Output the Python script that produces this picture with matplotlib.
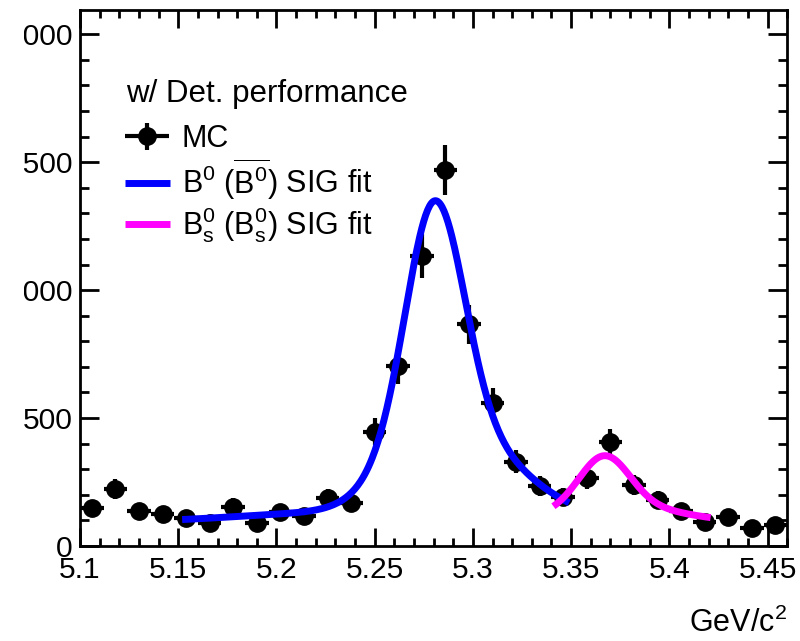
import numpy as np
import matplotlib
matplotlib.use('Agg')
import matplotlib.pyplot as plt
from matplotlib.legend_handler import HandlerErrorbar
from matplotlib.container import ErrorbarContainer
from matplotlib.ticker import MultipleLocator
from matplotlib.transforms import Bbox, TransformedBbox

plt.rcParams['font.family'] = ['Liberation Sans', 'DejaVu Sans']
plt.rcParams['mathtext.fontset'] = 'custom'
plt.rcParams['mathtext.rm'] = 'Liberation Sans'
plt.rcParams['mathtext.it'] = 'Liberation Sans:italic'
plt.rcParams['mathtext.bf'] = 'Liberation Sans:bold'
plt.rcParams['mathtext.sf'] = 'Liberation Sans'

# ---------------- data ----------------
mass = [5.106, 5.118, 5.130, 5.142, 5.154, 5.166, 5.178, 5.190, 5.202, 5.214,
        5.226, 5.238, 5.250, 5.262, 5.274, 5.286, 5.298, 5.310, 5.322, 5.334,
        5.346, 5.358, 5.370, 5.382, 5.394, 5.406, 5.418, 5.430, 5.442, 5.454]
counts = [148, 222, 135, 127, 108, 89, 154, 89, 134, 119,
          187, 168, 447, 702, 1132, 1470, 866, 557, 330, 235,
          193, 265, 406, 239, 180, 137, 95, 112, 69, 82]
errors = [31, 38, 30, 29, 27, 24, 32, 24, 30, 28,
          35, 33, 54, 68, 86, 98, 75, 60, 46, 39,
          35, 42, 51, 39, 34, 30, 25, 27, 21, 23]
bin_half_width = 0.006

x_ticks = [5.1, 5.15, 5.2, 5.25, 5.3, 5.35, 5.4, 5.45]
x_ticklabels = ['5.1', '5.15', '5.2', '5.25', '5.3', '5.35', '5.4', '5.45']
y_ticks = [0, 500, 1000, 1500, 2000]
y_ticklabels = ['0', '500', '1000', '1500', '2000']

# B0 signal fit parameters
b0_const = 88.0
b0_mean = 5.281
b0_core_amp = 836.0
b0_core_sigma = 0.0145
b0_wide_amp = 390.0
b0_wide_sigma_lo = 0.0226
b0_wide_sigma_hi = 0.037
b0_tail_amp = 45.0
b0_tail_mean = 5.24
b0_tail_sigma = 0.06
b0_range = (5.152, 5.349)

# Bs signal fit parameters
bs_const = 92.0
bs_mean = 5.3672
bs_core_amp = 183.0
bs_core_sigma = 0.0125
bs_wide_amp = 78.0
bs_wide_sigma_lo = 0.024
bs_wide_sigma_hi = 0.032
bs_range = (5.341, 5.421)

legend_title = 'w/ Det. performance'
labels = ['MC', r'B$^0$ ($\overline{\mathrm{B}^0}$) SIG fit',
          r'B$_\mathrm{s}^0$ (B$_\mathrm{s}^0$) SIG fit']


def gauss(x, a, m, s):
    return a * np.exp(-0.5 * ((x - m) / s) ** 2)


def bifur(x, a, m, slo, shi):
    s = np.where(x < m, slo, shi)
    return a * np.exp(-0.5 * ((x - m) / s) ** 2)


fig = plt.figure(figsize=(8, 6.41), dpi=100)
ax = fig.add_axes([0.1, 0.1482, 0.884, 0.8362])

eb = ax.errorbar(mass, counts, xerr=bin_half_width, yerr=errors, fmt='o',
                 color='black', ms=12.5, elinewidth=3, capsize=0, zorder=2)

xb = np.linspace(b0_range[0], b0_range[1], 400)
yb = (b0_const + gauss(xb, b0_core_amp, b0_mean, b0_core_sigma)
      + bifur(xb, b0_wide_amp, b0_mean, b0_wide_sigma_lo, b0_wide_sigma_hi)
      + gauss(xb, b0_tail_amp, b0_tail_mean, b0_tail_sigma))
lb, = ax.plot(xb, yb, color='#0000ff', lw=5, zorder=3, solid_capstyle='butt')

xs = np.linspace(bs_range[0], bs_range[1], 300)
ys = (bs_const + gauss(xs, bs_core_amp, bs_mean, bs_core_sigma)
      + bifur(xs, bs_wide_amp, bs_mean, bs_wide_sigma_lo, bs_wide_sigma_hi))
ls, = ax.plot(xs, ys, color='#ff00ff', lw=5, zorder=4, solid_capstyle='butt')

ax.set_xlim(5.1, 5.46)
ax.set_ylim(0, 2095)
ax.set_xticks(x_ticks)
ax.set_xticklabels(x_ticklabels)
ax.xaxis.set_minor_locator(MultipleLocator(0.01))
ax.set_yticks(y_ticks)
ax.set_yticklabels(y_ticklabels)
ax.yaxis.set_minor_locator(MultipleLocator(100))

ax.tick_params(which='both', direction='in', top=True, right=True, width=2,
               labelsize=21.6, color='black')
ax.tick_params(axis='x', which='major', length=13, pad=7)
ax.tick_params(axis='x', which='minor', length=6)
ax.tick_params(axis='y', which='major', length=14, pad=5.2)
ax.tick_params(axis='y', which='minor', length=6.5)
for sp in ax.spines.values():
    sp.set_linewidth(2)

# the y labels are cut at the left edge of the drawing pad, as in the original
clip_bb = TransformedBbox(Bbox([[23.5 / 800, 0.0], [1.0, 1.0]]), fig.transFigure)
for t in ax.get_yticklabels():
    t.set_clip_box(clip_bb)
    t.set_clip_on(True)

ax.set_xlabel(r'GeV/c$^2$', fontsize=22, loc='right')
ax.xaxis.set_label_coords(1.0, -0.115)
ax.xaxis.label.set_va('top')
ax.xaxis.label.set_ha('right')

ax.text(0.065, 0.843, legend_title, transform=ax.transAxes, fontsize=22.5,
        ha='left', va='center')

leg = ax.legend([eb, lb, ls], labels, loc='upper left',
                bbox_to_anchor=(0.064, 0.787), frameon=False, fontsize=22,
                handlelength=1.45, handletextpad=0.4,
                labelspacing=0.08, borderpad=0, borderaxespad=0,
                handler_map={ErrorbarContainer: HandlerErrorbar(xerr_size=0.72, yerr_size=0.45)})

fig.savefig('out.png', dpi=100)
